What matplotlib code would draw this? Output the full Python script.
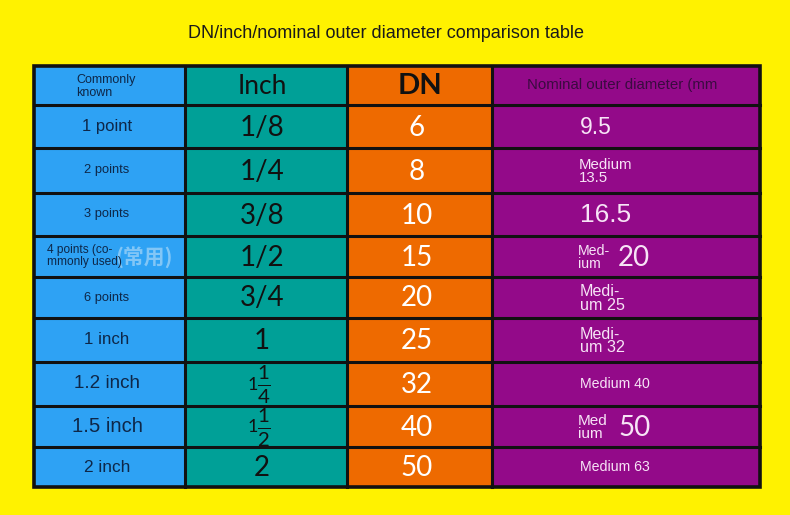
import matplotlib as mpl
import matplotlib.pyplot as plt
from matplotlib.patches import Rectangle

mpl.rcParams.update({
    "font.family": ["Liberation Sans", "DejaVu Sans"],
    "mathtext.fontset": "custom",
    "mathtext.rm": "Lato",
    "mathtext.it": "Lato",
    "mathtext.bf": "Lato:bold",
})

# ---- data ----
TITLE = "DN/inch/nominal outer diameter comparison table"
HEADERS = ["Commonly\nknown", "Inch", "DN", "Nominal outer diameter (mm"]
common_names = ["1 point", "2 points", "3 points", "4 points (co-\nmmonly used)",
                "6 points", "1 inch", "1.2 inch", "1.5 inch", "2 inch"]
inch_sizes = ["1/8", "1/4", "3/8", "1/2", "3/4", "1", "1 1/4", "1 1/2", "2"]
dn_values = [6, 8, 10, 15, 20, 25, 32, 40, 50]
od_values = ["9.5", "13.5", "16.5", "20", "25", "32", "40", "50", "63"]
od_prefix = ["", "Medium", "", "Med-\nium", "Medi-\num", "Medi-\num",
             "Medium", "Med\nium", "Medium"]

# ---- layout (pixels) ----
W, H = 790, 515
col_x = [34, 185, 347, 492, 760]
row_y = [66, 105, 148, 193, 236, 277, 318, 362, 406, 447, 487]
fills = ["#2EA2F4", "#00A097", "#EE6A00", "#930A89"]
YELLOW = "#FFF200"

fig = plt.figure(figsize=(W / 100, H / 100), dpi=100, facecolor=YELLOW)
ax = fig.add_axes([0, 0, 1, 1])
ax.set_xlim(0, W)
ax.set_ylim(H, 0)
ax.axis("off")

ax.text(386, 34, TITLE, ha="center", va="center", fontsize=13, color="#1a1a1a")

for c in range(4):
    ax.add_patch(Rectangle((col_x[c], row_y[0]), col_x[c + 1] - col_x[c],
                           row_y[-1] - row_y[0], facecolor=fills[c], edgecolor="none"))
for y in row_y[1:-1]:
    ax.plot([col_x[0], col_x[-1]], [y, y], color="#111111", lw=2.2)
for x in col_x[1:-1]:
    ax.plot([x, x], [row_y[0], row_y[-1]], color="#111111", lw=2.2)
ax.add_patch(Rectangle((col_x[0], row_y[0]), col_x[-1] - col_x[0], row_y[-1] - row_y[0],
                       facecolor="none", edgecolor="#111111", lw=2.6))

cx = [(col_x[i] + col_x[i + 1]) / 2 for i in range(4)]
cy = [(row_y[i] + row_y[i + 1]) / 2 for i in range(len(row_y) - 1)]
NAVY = "#0E2748"
PINK = "#F7E4F6"

# header row
ax.text(76, cy[0] + 1, HEADERS[0], ha="left", va="center", fontsize=9,
        color=NAVY, linespacing=1.05)
ax.text(cx[1] - 4, cy[0] + 1, HEADERS[1], ha="center", va="center", fontsize=19,
        family="Lato", color="#111111")
ax.text(cx[2], cy[0] + 1, HEADERS[2], ha="center", va="center", fontsize=21,
        family="Lato", fontweight="bold", color="#111111")
ax.text(527, cy[0], HEADERS[3], ha="left", va="center", fontsize=10.8, color="#3A0B40")

# first column
name_sizes = [12, 9.3, 9.3, 8.6, 9.3, 12.2, 13.6, 14.6, 12.4]
for i, name in enumerate(common_names):
    y = cy[i + 1]
    if "\n" in name:
        # faded leftover of the original label behind the translation
        ax.text(144, y + 1, "(常用)", ha="center", va="center", fontsize=15,
                family=["Noto Sans CJK SC"], fontweight="bold", color="#A6D6F8", alpha=0.7)
        ax.text(47, y, name, ha="left", va="center", fontsize=name_sizes[i],
                color=NAVY, linespacing=1.0)
    else:
        ax.text(107, y, name, ha="center", va="center", fontsize=name_sizes[i], color=NAVY)

# inch column
for i, s in enumerate(inch_sizes):
    y = cy[i + 1]
    if " " in s:
        whole, frac = s.split(" ")
        num, den = frac.split("/")
        ax.text(cx[1] - 8, y + 1, whole, ha="right", va="center", fontsize=13,
                family="Lato", color="#111111")
        ax.text(cx[1] - 9, y + 1, r"$\frac{%s}{%s}$" % (num, den), ha="left",
                va="center", fontsize=21, color="#111111")
    else:
        ax.text(cx[1] - 4, y + 1, s, ha="center", va="center", fontsize=20,
                family="Lato", color="#111111")

# DN column
for i, v in enumerate(dn_values):
    ax.text(cx[2] - 3, cy[i + 1] + 1, str(v), ha="center", va="center", fontsize=20,
            family="Lato", color="white")

# nominal OD column
for i, (pre, v) in enumerate(zip(od_prefix, od_values)):
    y = cy[i + 1]
    if pre == "":
        size = 16.5 if len(v) == 3 else 19
        ax.text(580, y + 1, v, ha="left", va="center", fontsize=size, color=PINK)
    elif pre == "Medium" and i == 1:
        ax.text(579, y + 1, pre + "\n" + v, ha="left", va="center", fontsize=10.8,
                color=PINK, linespacing=0.85)
    elif pre == "Medium":
        ax.text(580, y, pre + " " + v, ha="left", va="center", fontsize=10.2, color=PINK)
    elif pre.startswith("Medi-"):
        ax.text(580, y + 1, pre + " " + v, ha="left", va="center", fontsize=11.6,
                color=PINK, linespacing=0.85)
    else:
        ax.text(578, y + 1, pre, ha="left", va="center", fontsize=10.2 if "-" in pre else 11,
                color=PINK, linespacing=0.85)
        ax.text(618, y + 1, v, ha="left", va="center", fontsize=20, family="Lato", color=PINK)

fig.savefig("out.png", dpi=100, facecolor=YELLOW)
